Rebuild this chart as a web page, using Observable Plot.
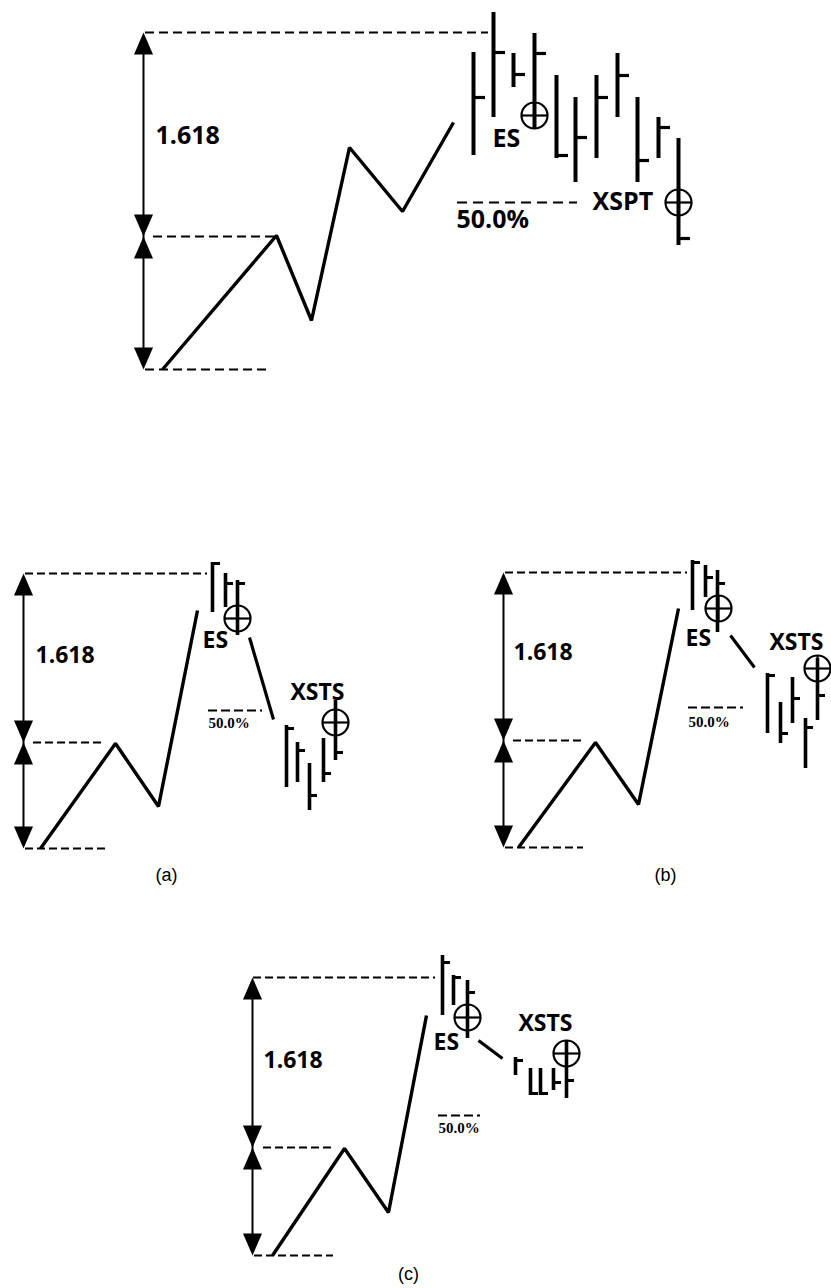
<!DOCTYPE html>
<html><head><meta charset="utf-8">
<script src="https://cdn.jsdelivr.net/npm/d3@7"></script>
<script src="https://cdn.jsdelivr.net/npm/@observablehq/plot@0.6"></script>
<style>html,body{margin:0;padding:0;background:#fff}#chart svg{display:block}</style>
</head><body><div id="chart"></div>
<script>
// ---- data (diagram units: x to the right, y downward) ----
const panels = ["top", "a", "b", "c"];

// swing waves: [panel, x, y]
const wavePoints = [
  ["top",162,369],["top",276,235],["top",311,320],["top",349,147],["top",402,211],["top",453,122],
  ["a",40,848],["a",115,743],["a",158,806],["a",197,610],
  ["b",518,847],["b",595,742],["b",638,804],["b",678,608],
  ["c",272,1255],["c",344,1148],["c",388,1212],["c",426,1015]
];

// retracement legs from ES down to XSTS: [panel, x1, y1, x2, y2]
const retraceLegs = [
  ["a",249,637,273,719],["b",730,635,754,667],["c",478,1040,502,1058]
];

// measuring rulers: [panel, x, top, middle, bottom]
const rulers = [
  ["top",143,32,236,369],["a",23,573,742,848],["b",503,572,740,847],["c",252,977,1147,1255]
];

// dashed level lines: [panel, y, x1, x2]
const levelLines = [
  ["top",32,145,488],["top",236,153,275],["top",369,145,268],
  ["a",573,25,207],["a",742,33,105],["a",848,25,105],
  ["b",572,505,687],["b",740,513,585],["b",847,505,583],
  ["c",977,253,435],["c",1147,263,335],["c",1255,254,333]
];

// 50% retracement lines: [panel, y, x1, x2]
const halfLines = [
  ["top",202,457,577],["a",710,208,262],["b",707,688,743],["c",1115,438,480]
];

// price bars: [panel, x, high, low, tickY]
const priceBars = [
  ["top",473,52,155,97],["top",493,12,117,52],["top",513,53,87,74],["top",534,33,128,53],
  ["top",556,75,158,155],["top",575,97,182,137],["top",596,75,158,97],["top",617,53,117,75],
  ["top",637,97,182,160],["top",658,117,158,127],["top",678,138,245,238],
  ["a",212,562,612,563],["a",225,573,607,583],["a",237,580,635,583],
  ["a",286,725,787,728],["a",297,742,782,750],["a",309,763,810,795],["a",323,738,782,773],["a",335,700,760,752],
  ["b",692,560,610,562],["b",705,565,597,577],["b",717,570,632,583],
  ["b",767,673,733,675],["b",780,702,743,733],["b",792,677,723,698],["b",805,718,768,727],["b",817,658,720,695],
  ["c",442,955,1015,962],["c",453,975,1005,977],["c",467,980,1038,992],
  ["c",515,1057,1075,1060],["c",530,1068,1095,1093],["c",540,1068,1095,1093],["c",553,1068,1090,1082],["c",566,1040,1098,1080]
];

// signal circles (ES / XSPT / XSTS): [panel, x, y]
const signals = [
  ["top",534,115],["top",678,202],
  ["a",237,618],["a",335,722],
  ["b",718,608],["b",817,668],
  ["c",467,1017],["c",566,1053]
];

// text labels: [panel, text, x, y, kind]
const labels = [
  ["top","1.618",155,135,"big"],["top","ES",492,138,"big"],["top","XSPT",592,201,"big"],["top","50.0%",456,219,"big"],
  ["a","1.618",35,655,"mid"],["a","ES",202,640,"mid"],["a","XSTS",290,692,"mid"],["a","50.0%",208,723,"small"],
  ["b","1.618",513,652,"mid"],["b","ES",685,638,"mid"],["b","XSTS",769,642,"mid"],["b","50.0%",688,722,"small"],
  ["c","1.618",263,1060,"mid"],["c","ES",433,1042,"mid"],["c","XSTS",518,1023,"mid"],["c","50.0%",438,1128,"small"]
];

// panel captions: [text, x, y]
const captions = [["(a)",166,875],["(b)",665,875],["(c)",408,1274]];

// ---- build ----
const W = 831, H = 1288, INK = "#000";
const waves = wavePoints.map(([panel,x,y]) => ({panel,x,y}));
const legs = retraceLegs.map(([panel,x1,y1,x2,y2]) => ({panel,x1,y1,x2,y2}));
const rul = rulers.map(([panel,x,top,mid,bottom]) => ({panel,x,top,mid,bottom}));
const levels = levelLines.map(([panel,y,x1,x2]) => ({panel,y,x1,x2}));
const halves = halfLines.map(([panel,y,x1,x2]) => ({panel,y,x1,x2}));
const bars = priceBars.map(([panel,x,hi,lo,tick]) => ({panel,x,hi,lo,tick}));
const sigs = signals.map(([panel,x,y]) => ({panel,x,y}));
const texts = labels.map(([panel,text,x,y,kind]) => ({panel,text,x,y,kind}));
const caps = captions.map(([text,x,y]) => ({text,x,y}));

const upHeads = rul.flatMap(d => [{x:d.x,y:d.top},{x:d.x,y:d.mid}]);
const downHeads = rul.flatMap(d => [{x:d.x,y:d.mid},{x:d.x,y:d.bottom}]);
const HW = 19, HH = 22;
const headUp = {draw(ctx){ ctx.moveTo(0,0); ctx.lineTo(HW/2,HH); ctx.lineTo(-HW/2,HH); ctx.closePath(); }};
const headDown = {draw(ctx){ ctx.moveTo(0,0); ctx.lineTo(HW/2,-HH); ctx.lineTo(-HW/2,-HH); ctx.closePath(); }};

const isTop = d => d.panel === "top";
const notTop = d => d.panel !== "top";
const sans = "'Open Sans', 'DejaVu Sans', sans-serif";
const R = 13;

const chart = Plot.plot({
  width: W, height: H,
  marginTop: 0, marginRight: 0, marginBottom: 0, marginLeft: 0,
  x: {domain: [0, W], range: [0, W], axis: null},
  y: {domain: [0, H], range: [0, H], axis: null},
  style: {background: "#fff"},
  marks: [
    // dashed level lines
    Plot.ruleY(levels.filter(isTop), {y:"y", x1:"x1", x2:"x2", stroke:INK, strokeWidth:2, strokeDasharray:"9,5"}),
    Plot.ruleY(levels.filter(notTop), {y:"y", x1:"x1", x2:"x2", stroke:INK, strokeWidth:2, strokeDasharray:"8,4"}),
    Plot.ruleY(halves.filter(isTop), {y:"y", x1:"x1", x2:"x2", stroke:INK, strokeWidth:2, strokeDasharray:"10,6"}),
    Plot.ruleY(halves.filter(notTop), {y:"y", x1:"x1", x2:"x2", stroke:INK, strokeWidth:2, strokeDasharray:"9,4"}),
    // rulers with arrowheads
    Plot.ruleX(rul, {x:"x", y1:d=>d.top+8, y2:d=>d.bottom-8, stroke:INK, strokeWidth:2}),
    Plot.dot(upHeads, {x:"x", y:"y", symbol:headUp, r:5, fill:INK, stroke:null}),
    Plot.dot(downHeads, {x:"x", y:"y", symbol:headDown, r:5, fill:INK, stroke:null}),
    // swing waves
    Plot.line(waves, {x:"x", y:"y", z:"panel", stroke:INK, strokeWidth:3.4, strokeLinejoin:"miter", strokeLinecap:"butt"}),
    Plot.link(legs, {x1:"x1", y1:"y1", x2:"x2", y2:"y2", stroke:INK, strokeWidth:3.2, strokeLinecap:"butt"}),
    // price bars
    Plot.ruleX(bars.filter(isTop), {x:"x", y1:"hi", y2:"lo", stroke:INK, strokeWidth:4}),
    Plot.ruleY(bars.filter(isTop), {y:"tick", x1:"x", x2:d=>d.x+12, stroke:INK, strokeWidth:3.2}),
    Plot.ruleX(bars.filter(notTop), {x:"x", y1:"hi", y2:"lo", stroke:INK, strokeWidth:3.6}),
    Plot.ruleY(bars.filter(notTop), {y:"tick", x1:"x", x2:d=>d.x+8, stroke:INK, strokeWidth:3}),
    // signal circles with crosshair
    Plot.dot(sigs, {x:"x", y:"y", r:R, stroke:INK, strokeWidth:2.2, fill:"none"}),
    Plot.ruleY(sigs, {y:"y", x1:d=>d.x-R, x2:d=>d.x+R, stroke:INK, strokeWidth:2.2}),
    Plot.ruleX(sigs, {x:"x", y1:d=>d.y-R, y2:d=>d.y+R, stroke:INK, strokeWidth:2.2}),
    // labels
    Plot.text(texts.filter(d=>d.kind==="big"), {x:"x", y:"y", text:"text", textAnchor:"start", fontSize:25, fontWeight:"bold", fontFamily:sans, fill:INK}),
    Plot.text(texts.filter(d=>d.kind==="mid"), {x:"x", y:"y", text:"text", textAnchor:"start", fontSize:23, fontWeight:"bold", fontFamily:sans, fill:INK}),
    Plot.text(texts.filter(d=>d.kind==="small"), {x:"x", y:"y", text:"text", textAnchor:"start", fontSize:15, fontWeight:"bold", fontFamily:"'Liberation Serif', 'DejaVu Serif', serif", fill:INK}),
    Plot.text(caps, {x:"x", y:"y", text:"text", textAnchor:"middle", fontSize:18, fontFamily:"'Liberation Sans', Arial, sans-serif", fill:INK})
  ]
});
document.getElementById("chart").append(chart);
</script>
</body></html>
